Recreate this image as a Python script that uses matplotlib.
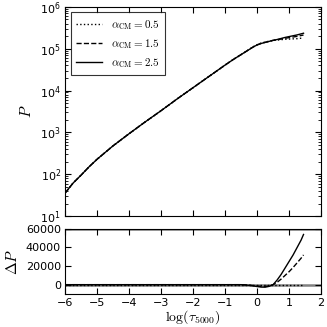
import matplotlib
matplotlib.use("Agg")
import matplotlib.pyplot as plt
import numpy as np

plt.rcParams['mathtext.fontset'] = 'cm'
plt.rcParams['font.family'] = 'DejaVu Sans'

tau = [-6, -5.75, -5.5, -5.25, -5, -4.5, -4, -3.5, -3, -2.5, -2, -1.5, -1, -0.75,
       -0.5, -0.375, -0.25, -0.125, 0, 0.125, 0.25, 0.375, 0.5, 0.625, 0.75,
       0.875, 1.0, 1.125, 1.25, 1.375, 1.45]
P_05 = [35.5, 61.7, 95.5, 151, 229, 479, 933, 1778, 3311, 6310, 11750, 21880,
        40740, 54950, 72440, 83500, 96200, 111000, 125000, 136000, 144000,
        151400, 158500, 161000, 164800, 168200, 170000, 172200, 173800,
        178500, 180400]
dP_15 = [0, 0, 0, 0, 0, 0, 0, 0, 0, 0, 0, 0, 0, 0, 0, -200, -500, -900, -1400,
         -1800, -1900, -1300, 0, 2500, 6000, 10000, 14000, 18500, 23500, 28500,
         32000]
dP_25 = [0, 0, 0, 0, 0, 0, 0, 0, 0, 0, 0, 0, 0, 0, 0, -300, -700, -1300, -2000,
         -2600, -2700, -1800, 0, 5000, 11000, 18000, 25000, 32000, 40000, 48000,
         54000]
labels = [r'$\alpha_{\rm CM}=0.5$', r'$\alpha_{\rm CM}=1.5$', r'$\alpha_{\rm CM}=2.5$']

tau_a = np.array(tau)
P05 = np.array(P_05, dtype=float)
d15 = np.array(dP_15, dtype=float)
d25 = np.array(dP_25, dtype=float)
d05 = np.zeros_like(P05)

fig = plt.figure(figsize=(3.27, 3.27), dpi=100)
ax1 = fig.add_axes([0.199, 0.339, 0.783, 0.640])
ax2 = fig.add_axes([0.199, 0.101, 0.783, 0.199])

ax1.plot(tau_a, P05, ':', color='k', lw=1.0, label=labels[0])
ax1.plot(tau_a, P05 + d15, '--', color='k', lw=1.0, label=labels[1])
ax1.plot(tau_a, P05 + d25, '-', color='k', lw=1.0, label=labels[2])
ax1.set_yscale('log')
ax1.set_ylim(10, 1e6)
ax1.set_xlim(-6, 2)
ax1.set_xticks([-6, -5, -4, -3, -2, -1, 0, 1, 2])
ax1.set_xticklabels([])
ax1.set_ylabel(r'$P$', fontsize=11)
leg = ax1.legend(loc='upper left', fontsize=8, frameon=True, fancybox=False,
                 handlelength=2.3, borderpad=0.5, labelspacing=0.45,
                 borderaxespad=0.5)
leg.get_frame().set_edgecolor('k')
leg.get_frame().set_linewidth(0.8)

ax2.axhline(0, color='0.5', lw=1.8, zorder=0)
ax2.axhline(60000, color='0.5', lw=1.8, zorder=0)
ax2.plot(tau_a, d05, ':', color='k', lw=1.0)
ax2.plot(tau_a, d15, '--', color='k', lw=1.0)
ax2.plot(tau_a, d25, '-', color='k', lw=1.0)
ax2.set_xlim(-6, 2)
ax2.set_ylim(-10000, 60000)
ax2.set_yticks([0, 20000, 40000, 60000])
ax2.set_xticks([-6, -5, -4, -3, -2, -1, 0, 1, 2])
ax2.set_ylabel(r'$\Delta P$', fontsize=11)
ax2.set_xlabel(r'$\log(\tau_{5000})$', fontsize=10, labelpad=0)

for ax in (ax1, ax2):
    ax.tick_params(which='both', direction='in', top=True, right=True, labelsize=8, pad=3)
    ax.tick_params(which='major', length=4)
    ax.tick_params(which='minor', length=2)
    for s in ax.spines.values():
        s.set_linewidth(0.8)
ax1.yaxis.set_label_coords(-0.12, 0.5)
ax2.yaxis.set_label_coords(-0.175, 0.5)

fig.savefig('out.png', dpi=100)
